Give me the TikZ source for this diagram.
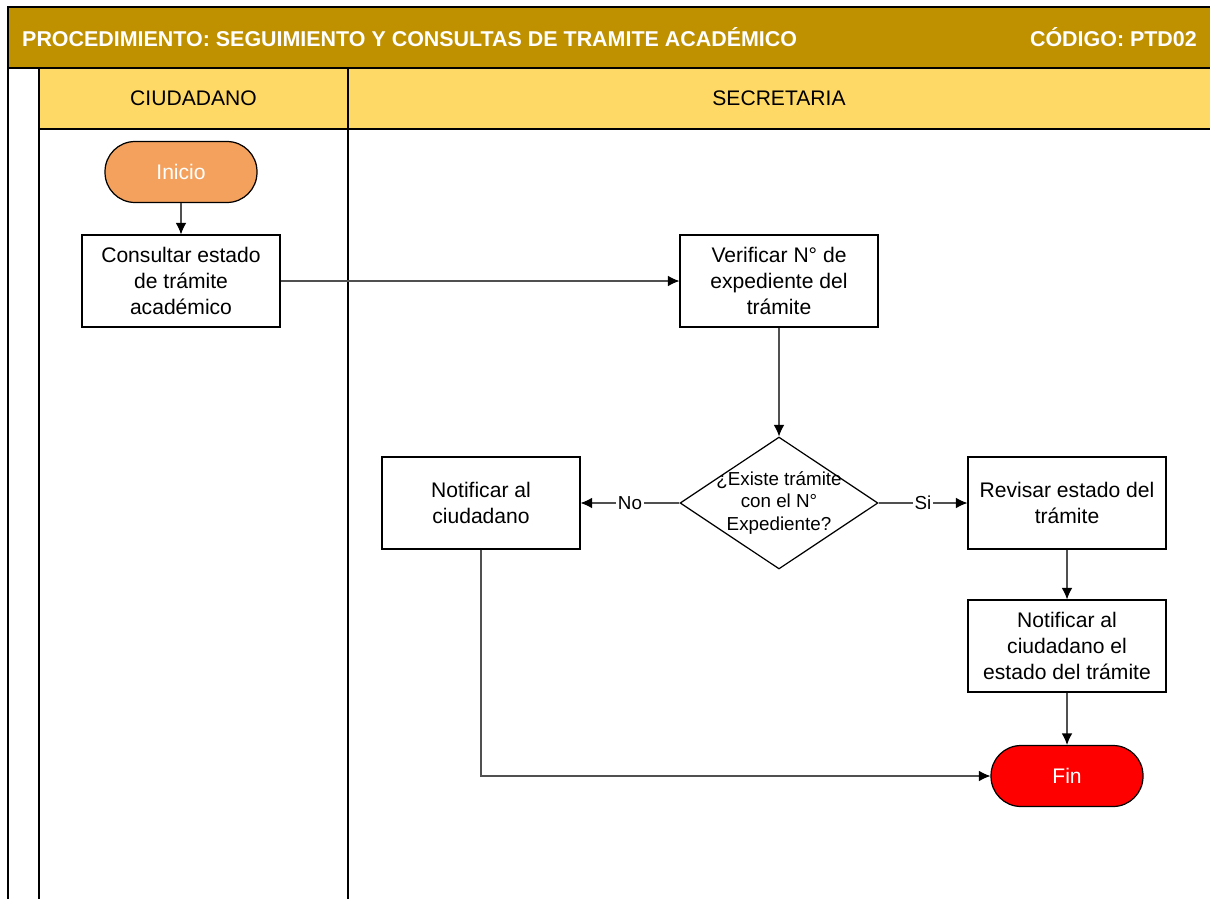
\documentclass[tikz,border=0pt]{standalone}
\usepackage{fontspec}
\setmainfont{Liberation Sans}
\usepackage{tikz}
\usetikzlibrary{arrows.meta,positioning,shapes.geometric}
\definecolor{headgold}{HTML}{BF9000}
\definecolor{lanesand}{HTML}{FFD966}
\definecolor{startpeach}{HTML}{F4A15D}
\definecolor{endred}{HTML}{FF0000}
\definecolor{wire}{HTML}{505050}

\begin{document}
\begin{tikzpicture}[>={Latex[length=6.5pt,width=6pt]},x=.02cm,y=-.02cm,
  txt/.style={font=\fontsize{12}{14.7}\selectfont},
  proc/.style={txt,draw,line width=.7pt,fill=white,align=center,minimum width=3.96cm,minimum height=1.84cm},
  term/.style={txt,draw,line width=.7pt,rounded corners=.6cm,text=white,minimum width=3.04cm,minimum height=1.22cm},
  ask/.style={draw,diamond,line width=.7pt,fill=white,inner sep=0pt,minimum width=3.96cm,minimum height=2.64cm},
  flow/.style={->,wire,line width=.6pt,-{Latex[length=6.5pt,width=6pt,fill=black,color=black]}},
  tag/.style={font=\fontsize{10.7}{13}\selectfont,text=black,fill=white,inner sep=1pt}]
  \useasboundingbox (0,0) rectangle (1210,899);
  \fill[headgold] (8,7) rectangle (1210,68);
  \fill[lanesand] (39,68) rectangle (1210,129);
  \draw[line width=1pt] (1210,7) -- (8,7) -- (8,899);
  \draw[line width=1pt] (8,68) -- (1210,68);
  \draw[line width=1pt] (39,129) -- (1210,129);
  \draw[line width=1pt] (39,68) -- (39,899);
  \draw[line width=1pt] (348,68) -- (348,899);
  \node[anchor=west,text=white,font=\bfseries\fontsize{12.2}{14}\selectfont] (title) at (16,37) {PROCEDIMIENTO: SEGUIMIENTO Y CONSULTAS DE TRAMITE ACADÉMICO};
  \node[anchor=east,text=white,font=\bfseries\fontsize{12.2}{14}\selectfont] (code) at (1203,37) {CÓDIGO: PTD02};
  \node[txt] (lane1) at (193.5,98.5) {CIUDADANO};
  \node[txt] (lane2) at (779,98.5) {SECRETARIA};

  \node[term,fill=startpeach] (inicio) at (181,172) {Inicio};
  \node[proc] (consultar) at (181,281) {Consultar estado\\de trámite\\académico};
  \node[proc] (verificar) at (779,281) {Verificar N° de\\expediente del\\trámite};
  \node[ask,label={[font=\fontsize{10.7}{13}\selectfont,align=center]center:¿Existe trámite\\con el N°\\Expediente?}] (existe) at (779,503) {};
  \node[proc] (notificar) at (481,503) {Notificar al\\ciudadano};
  \node[proc] (revisar) at (1067,503) {Revisar estado del\\trámite};
  \node[proc] (informar) at (1067,646) {Notificar al\\ciudadano el\\estado del trámite};
  \node[term,fill=endred] (fin) at (1067,776) {Fin};

  \draw[flow] (inicio) -- (consultar);
  \draw[flow] (consultar) -- (verificar);
  \draw[flow] (verificar) -- (existe);
  \draw[flow] (existe) -- node[tag]{No} (notificar);
  \draw[flow] (existe) -- node[tag]{Si} (revisar);
  \draw[flow] (revisar) -- (informar);
  \draw[flow] (informar) -- (fin);
  \draw[flow] (notificar) |- (fin);
\end{tikzpicture}
\end{document}
